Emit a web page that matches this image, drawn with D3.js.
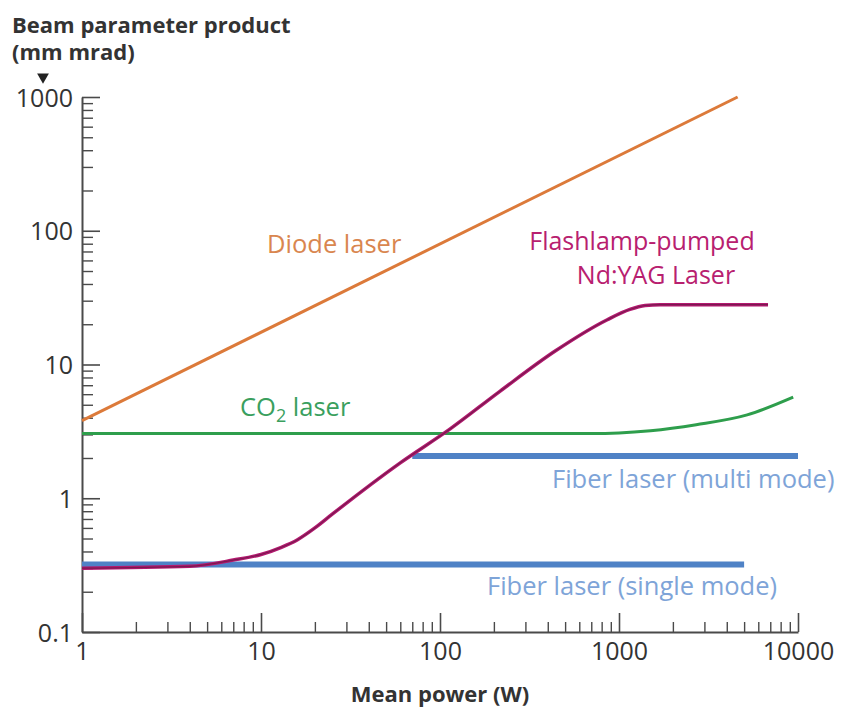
<!DOCTYPE html>
<html>
<head>
<meta charset="utf-8">
<script src="https://cdn.jsdelivr.net/npm/d3@7"></script>
<style>
  html, body { margin: 0; padding: 0; background: #fff; }
  svg { display: block; font-family: "Open Sans", Lato, sans-serif; }
</style>
</head>
<body>
<svg id="chart" width="844" height="710"></svg>
<script>
// ---- Data ----
const xMajorTicks = [1, 10, 100, 1000, 10000];
const yMajorTicks = [0.1, 1, 10, 100, 1000];
const xTickLabels = ["1", "10", "100", "1000", "10000"];
const yTickLabels = ["0.1", "1", "10", "100", "1000"];

const diodePower = [1, 4600];
const diodeBPP   = [3.8, 1000];

const co2Power = [1, 100, 700, 1000, 1500, 2700, 5200, 9400];
const co2BPP   = [3.05, 3.05, 3.05, 3.08, 3.2, 3.55, 4.2, 5.7];

const yagPower = [1, 4, 7, 10, 13, 16, 20, 25, 60, 114, 216, 440, 860, 1150, 1400, 1700, 6800];
const yagBPP   = [0.30, 0.31, 0.345, 0.38, 0.43, 0.49, 0.60, 0.76, 1.84, 3.3, 6.3, 12.6, 21.6, 25.8, 27.6, 28.0, 28.0];

const fiberMultiPower = [70, 10000];
const fiberMultiBPP   = [2.07, 2.07];

const fiberSinglePower = [1, 5000];
const fiberSingleBPP   = [0.32, 0.32];

// ---- Layout ----
const svg = d3.select("#chart");
const x = d3.scaleLog().domain([1, 10000]).range([82, 798]);
const y = d3.scaleLog().domain([0.1, 1000]).range([632, 97]);

function minorTicks(lo, hi) {
  const out = [];
  for (let d = lo; d < hi; d *= 10)
    for (let k = 2; k <= 9; k++) out.push(k * d);
  return out;
}

const axisColor = "#4a4a4a";
const labelColor = "#333";

// Y axis minor ticks
svg.append("g").attr("transform", "translate(82,0)")
  .call(d3.axisLeft(y).tickValues(minorTicks(0.1, 1000)).tickSize(-11).tickFormat(""))
  .call(g => g.select(".domain").remove())
  .call(g => g.selectAll("line").attr("stroke", axisColor).attr("stroke-width", 1.4));
// Y axis major
svg.append("g").attr("transform", "translate(82,0)")
  .call(d3.axisLeft(y).tickValues(yMajorTicks).tickSize(-18).tickSizeOuter(0).tickPadding(9)
        .tickFormat((d, i) => yTickLabels[i]))
  .call(g => g.select(".domain").attr("stroke", axisColor).attr("stroke-width", 2))
  .call(g => g.selectAll("line").attr("stroke", axisColor).attr("stroke-width", 1.6))
  .call(g => g.selectAll("text").attr("font-size", 25).attr("fill", labelColor)
        .attr("font-family", "'Open Sans', sans-serif").attr("dy", "0.36em"));

// X axis minor ticks
svg.append("g").attr("transform", "translate(0,632)")
  .call(d3.axisBottom(x).tickValues(minorTicks(1, 10000)).tickSize(-10).tickFormat(""))
  .call(g => g.select(".domain").remove())
  .call(g => g.selectAll("line").attr("stroke", axisColor).attr("stroke-width", 1.4));
// X axis major
svg.append("g").attr("transform", "translate(0,632)")
  .call(d3.axisBottom(x).tickValues(xMajorTicks).tickSize(-19).tickSizeOuter(0).tickPadding(10)
        .tickFormat((d, i) => xTickLabels[i]))
  .call(g => g.select(".domain").attr("stroke", axisColor).attr("stroke-width", 2))
  .call(g => g.selectAll("line").attr("stroke", axisColor).attr("stroke-width", 1.6))
  .call(g => g.selectAll("text").attr("font-size", 25).attr("fill", labelColor)
        .attr("font-family", "'Open Sans', sans-serif"));

// ---- Series ----
const line = d3.line().x(d => x(d[0])).y(d => y(d[1]));
const smooth = d3.line().x(d => x(d[0])).y(d => y(d[1])).curve(d3.curveMonotoneX);
const zip = (a, b) => a.map((v, i) => [v, b[i]]);

svg.append("path").datum(zip(fiberSinglePower, fiberSingleBPP))
  .attr("d", line).attr("fill", "none").attr("stroke", "#4f82c6").attr("stroke-width", 6);
svg.append("path").datum(zip(fiberMultiPower, fiberMultiBPP))
  .attr("d", line).attr("fill", "none").attr("stroke", "#4f82c6").attr("stroke-width", 6);
svg.append("path").datum(zip(co2Power, co2BPP))
  .attr("d", smooth).attr("fill", "none").attr("stroke", "#2e9e4c").attr("stroke-width", 3);
svg.append("path").datum(zip(diodePower, diodeBPP))
  .attr("d", line).attr("fill", "none").attr("stroke", "#dc7a3a").attr("stroke-width", 3);
svg.append("path").datum(zip(yagPower, yagBPP))
  .attr("d", smooth).attr("fill", "none").attr("stroke", "#b3196f").attr("stroke-width", 3.5);
svg.append("path").datum(zip(yagPower, yagBPP))
  .attr("d", smooth).attr("fill", "none").attr("stroke", "#7a1a50").attr("stroke-width", 1.2);

// ---- Labels ----
const txt = (s, xx, yy, color, opts = {}) => svg.append("text")
  .attr("x", xx).attr("y", yy).attr("fill", color)
  .attr("font-size", opts.size || 25.5)
  .attr("font-weight", opts.weight || "normal")
  .attr("text-anchor", opts.anchor || "start")
  .text(s);

txt("Diode laser", 267, 253, "#d9864f");
txt("Flashlamp-pumped", 642, 250, "#b8206f", { anchor: "middle", size: 25 });
txt("Nd:YAG Laser", 656, 284, "#b8206f", { anchor: "middle", size: 25 });
const co2 = svg.append("text").attr("x", 240).attr("y", 416).attr("fill", "#3a9f5e").attr("font-size", 25.5);
co2.append("tspan").text("CO");
co2.append("tspan").attr("font-size", 18).attr("dy", 6).text("2");
co2.append("tspan").attr("dy", -6).text(" laser");
txt("Fiber laser (multi mode)", 552, 488, "#7ea4d8");
txt("Fiber laser (single mode)", 487, 595, "#7ea4d8");

// Titles
txt("Beam parameter product", 12, 33, "#333", { size: 22, weight: "bold" });
txt("(mm mrad)", 12, 60, "#333", { size: 22, weight: "bold" });
svg.append("path").attr("d", d3.symbol().type(d3.symbolTriangle).size(60)())
  .attr("transform", "translate(43,77) rotate(180)").attr("fill", "#222");
txt("Mean power (W)", 440, 702, "#333", { size: 22, weight: "bold", anchor: "middle" });
</script>
</body>
</html>
